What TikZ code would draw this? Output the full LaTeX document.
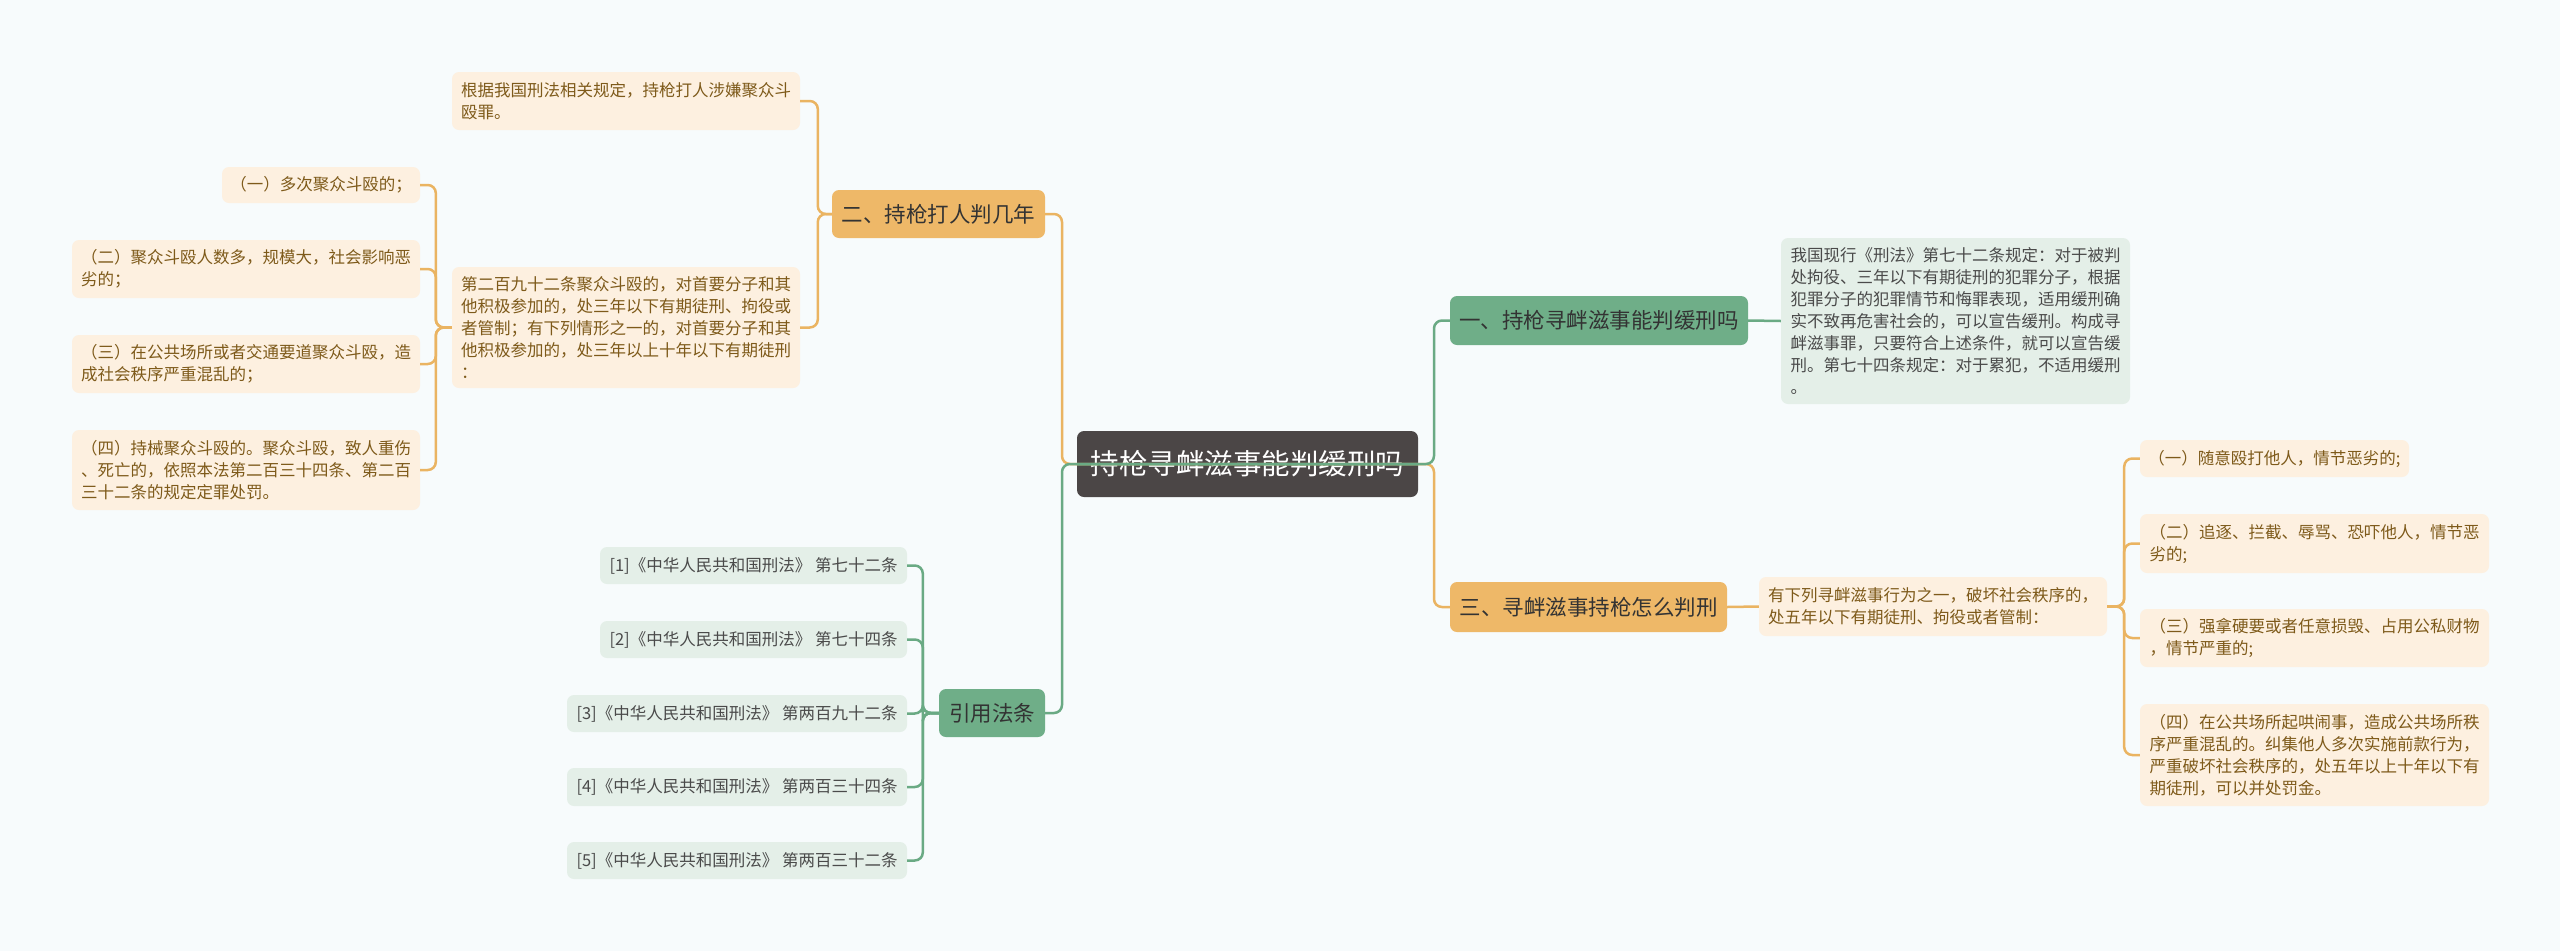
\documentclass[tikz,border=0pt]{standalone}
\usepackage{fontspec}
\newfontfamily\cjk{Noto Sans CJK SC}
\definecolor{bgc}{HTML}{F7FBFC}
\definecolor{rootc}{HTML}{4B4646}
\definecolor{obr}{HTML}{EEB868}
\definecolor{gbr}{HTML}{6FAE88}
\definecolor{olf}{HTML}{FDF0E0}
\definecolor{glf}{HTML}{E4EFE8}
\definecolor{otx}{HTML}{7E5A1A}
\definecolor{gtx}{HTML}{4A4A4A}
\definecolor{btx}{HTML}{333333}
\definecolor{oln}{HTML}{EAB462}
\definecolor{gln}{HTML}{6AAA84}
\tikzset{
  base/.style={rounded corners=7pt, inner sep=0pt, anchor=center},
  rootbox/.style={base, fill=rootc, text=white, font=\cjk\fontsize{28.5}{34}\selectfont},
  obranch/.style={base, fill=obr, text=btx, font=\cjk\fontsize{21.5}{26}\selectfont},
  gbranch/.style={base, fill=gbr, text=btx, font=\cjk\fontsize{21.5}{26}\selectfont},
  oleaf/.style={base, fill=olf, text=otx, align=left, font=\cjk\fontsize{16.5}{22}\selectfont},
  gleaf/.style={base, fill=glf, text=gtx, align=left, font=\cjk\fontsize{16.5}{22}\selectfont},
  oline/.style={draw=oln, line width=2.5pt, rounded corners=8pt},
  gline/.style={draw=gln, line width=2.5pt, rounded corners=8pt},
}
\begin{document}
\begin{tikzpicture}[x=1pt,y=-1pt]
\fill[bgc] (0,0) rectangle (2560,951);
\useasboundingbox (0,0) rectangle (2560,951);

% root
\node[rootbox, minimum width=341pt, minimum height=66pt] (root) at (1247.5,464) {持枪寻衅滋事能判缓刑吗};

% main branches
\node[obranch, minimum width=213pt, minimum height=48pt] (b2) at (938.5,214) {二、持枪打人判几年};
\node[gbranch, minimum width=298pt, minimum height=49pt] (b1) at (1599,320.5) {一、持枪寻衅滋事能判缓刑吗};
\node[obranch, minimum width=277pt, minimum height=50pt] (b3) at (1588.5,607) {三、寻衅滋事持枪怎么判刑};
\node[gbranch, minimum width=106pt, minimum height=48pt] (bref) at (992,713) {引用法条};

% branch 二 children
\node[oleaf, minimum width=348pt, minimum height=58pt] (t21) at (626,101) {根据我国刑法相关规定，持枪打人涉嫌聚众斗\\殴罪。};
\node[oleaf, minimum width=348pt, minimum height=121pt] (t22) at (626,327.5) {第二百九十二条聚众斗殴的，对首要分子和其\\他积极参加的，处三年以下有期徒刑、拘役或\\者管制；有下列情形之一的，对首要分子和其\\他积极参加的，处三年以上十年以下有期徒刑\\：};
\node[oleaf, minimum width=198pt, minimum height=36pt] (l1) at (321,185) {（一）多次聚众斗殴的；};
\node[oleaf, minimum width=348pt, minimum height=58pt] (l2) at (246,269) {（二）聚众斗殴人数多，规模大，社会影响恶\\劣的；};
\node[oleaf, minimum width=348pt, minimum height=58pt] (l3) at (246,364) {（三）在公共场所或者交通要道聚众斗殴，造\\成社会秩序严重混乱的；};
\node[oleaf, minimum width=348pt, minimum height=80pt] (l4) at (246,470) {（四）持械聚众斗殴的。聚众斗殴，致人重伤\\、死亡的，依照本法第二百三十四条、第二百\\三十二条的规定定罪处罚。};

% branch 一 child
\node[gleaf, minimum width=349pt, minimum height=166pt] (t11) at (1955.5,321) {我国现行《刑法》第七十二条规定：对于被判\\处拘役、三年以下有期徒刑的犯罪分子，根据\\犯罪分子的犯罪情节和悔罪表现，适用缓刑确\\实不致再危害社会的，可以宣告缓刑。构成寻\\衅滋事罪，只要符合上述条件，就可以宣告缓\\刑。第七十四条规定：对于累犯，不适用缓刑\\。};

% branch 三 children
\node[oleaf, minimum width=348pt, minimum height=59pt] (t31) at (1933,606.5) {有下列寻衅滋事行为之一，破坏社会秩序的，\\处五年以下有期徒刑、拘役或者管制：};
\node[oleaf, minimum width=269pt, minimum height=37pt] (r1) at (2274.5,458.5) {（一）随意殴打他人，情节恶劣的;};
\node[oleaf, minimum width=349pt, minimum height=59pt] (r2) at (2314.5,543.5) {（二）追逐、拦截、辱骂、恐吓他人，情节恶\\劣的;};
\node[oleaf, minimum width=349pt, minimum height=58pt] (r3) at (2314.5,638) {（三）强拿硬要或者任意损毁、占用公私财物\\，情节严重的;};
\node[oleaf, minimum width=349pt, minimum height=102pt] (r4) at (2314.5,755) {（四）在公共场所起哄闹事，造成公共场所秩\\序严重混乱的。纠集他人多次实施前款行为，\\严重破坏社会秩序的，处五年以上十年以下有\\期徒刑，可以并处罚金。};

% references
\node[gleaf, minimum width=307pt, minimum height=37pt] (f1) at (753.5,565.5) {[1]《中华人民共和国刑法》 第七十二条};
\node[gleaf, minimum width=307pt, minimum height=37pt] (f2) at (753.5,639.5) {[2]《中华人民共和国刑法》 第七十四条};
\node[gleaf, minimum width=340pt, minimum height=37pt] (f3) at (737,713.5) {[3]《中华人民共和国刑法》 第两百九十二条};
\node[gleaf, minimum width=340pt, minimum height=38pt] (f4) at (737,787) {[4]《中华人民共和国刑法》 第两百三十四条};
\node[gleaf, minimum width=340pt, minimum height=37pt] (f5) at (737,860.5) {[5]《中华人民共和国刑法》 第两百三十二条};

% junctions
\coordinate (jl) at (1062,464);
\coordinate (jr) at (1434,464);

% root connectors
\draw[oline] (root.center) -- (jl) |- (b2.east);
\draw[oline] (root.center) -- (jr) |- (b3.west);
\draw[gline] (root.east) -- (jl) |- (bref.east);
\draw[gline] (root.west) -- (jr) |- (b1.west);

% branch 二
\draw[oline] (b2.west) -- ++(-14,0) |- (t21.east);
\draw[oline] (b2.west) -- ++(-14,0) |- (t22.east);
\foreach \n in {l1,l2,l3,l4} \draw[oline] (t22.west) -- ++(-16,0) |- (\n.east);

% branch 一
\draw[gline] (b1.east) -- (t11.west);

% branch 三
\draw[oline] (b3.east) -- (t31.west);
\foreach \n in {r1,r2,r3,r4} \draw[oline] (t31.east) -- ++(17,0) |- (\n.west);

% references
\foreach \n in {f1,f2,f3,f4,f5} \draw[gline] (bref.west) -- ++(-16,0) |- (\n.east);
\end{tikzpicture}
\end{document}
